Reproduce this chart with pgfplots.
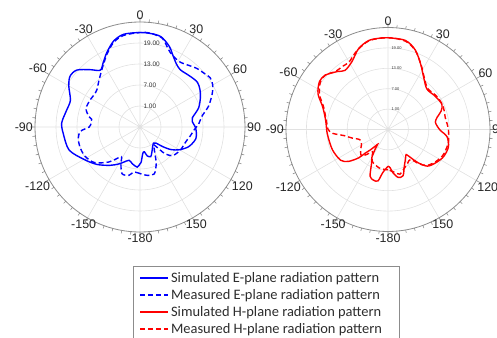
\documentclass[border=0pt]{standalone}
\usepackage{pgfplots}
\pgfplotsset{compat=1.18}
\usepgfplotslibrary{polar}
\usepackage{fontspec}
\setmainfont{Liberation Sans}
\newfontfamily\carlito{Carlito}
\definecolor{gridc}{RGB}{225,225,225}
\definecolor{axc}{RGB}{140,140,140}
\definecolor{legtext}{RGB}{45,45,45}
\pgfplotsset{
  mypolar/.style={
    scale only axis,
    anchor=center,
    rotate=-90, x dir=reverse,
    xmin=0, xmax=360, ymin=0, ymax=30,
    xtick={0,30,...,330},
    xticklabels={0,30,60,90,120,150,-180,-150,-120,-90,-60,-30},
    ytick={6,12,18,24},
    yticklabels={1.00,7.00,13.00,19.00},
    minor x tick num=5,
    grid=major,
    major grid style={draw=gridc, line width=0.6bp},
    x axis line style={draw=axc, line width=0.8bp},
    y axis line style={draw=none},
    x tick style={draw=axc, line width=0.6bp},
    xtick align=inside,
    major tick length=5bp, minor tick length=3bp,
    ytick style={draw=none},
    /pgf/number format/assume math mode=true,
    xticklabel style={font=\fontsize{12.5}{13}\selectfont, text=black!85,
      inner sep=2bp, anchor=-\tick-90},
  },
  sh/.style={y filter/.expression={y+5}},
  legrow/.style={hide axis, scale only axis, width=1bp, height=1bp,
    anchor=center, xmin=0, xmax=1, ymin=0, ymax=1,
    legend image code/.code={\draw[##1] (0bp,0bp) -- (28bp,0bp);},
    legend style={at={(0,0.5)}, anchor=west, draw=none, fill=none,
      font=\carlito\fontsize{14.5}{15}\selectfont, text=legtext,
      inner xsep=7bp, inner ysep=0bp}},
}
\begin{document}
\begin{tikzpicture}
\useasboundingbox (0,0) rectangle (497bp,338bp);
\begin{polaraxis}[mypolar, width=210bp, height=210bp, at={(140bp,211bp)},
  yticklabel style={font=\fontsize{6.5}{7}\selectfont, text=black!80, anchor=west}]
\addplot[sh, blue, line width=1.4bp, smooth] coordinates {
(-180,5.5) (-176,6.5) (-168,5.7) (-162,5.0) (-155,6.1) (-150,7.2) (-142,8.9) (-131,11.3)
(-120,13.5) (-108,16.3) (-95,17.0) (-87,17.4) (-77,16.5) (-69,16.3) (-60,18.5) (-54,19.7)
(-48,19.3) (-41,16.7) (-35,14.8) (-30,16.1) (-24,18.3) (-17,20.7) (-10,21.9) (0,22.0)
(6,21.9) (13,21.5) (20,19.5) (25,17.4) (30,15.8) (35,15.0) (40,15.1) (45,15.4) (52,15.8)
(58,15.2) (64,14.2) (72,12.6) (80,10.2) (84,10.0) (90,10.8) (96,11.2) (102,11.3) (108,10.6)
(113,9.8) (120,8.0) (126,6.0) (131,3.5) (135,1.5) (140,1.0) (148,1.8) (155,3.0) (160,4.0)
(166,3.5) (170,2.2) (174,2.6) (178,5.0) (180,5.5)
};
\addplot[sh, blue, line width=1.4bp, dash pattern=on 5bp off 3bp, smooth] coordinates {
(-180,8.3) (-172,8.0) (-167,9.2) (-159,9.3) (-153,7.0) (-148,5.0) (-143,6.5) (-138,8.5)
(-128,11.5) (-118,12.8) (-108,13.1) (-100,12.9) (-94,12.0) (-90,9.5) (-85,9.0) (-81,9.0)
(-78,10.0) (-71,11.3) (-61,11.2) (-55,11.0) (-49,11.3) (-42,12.6) (-35,14.3) (-30,15.8)
(-24,18.0) (-17,20.4) (-10,21.6) (0,22.0) (6,22.0) (14,21.2) (18,19.5) (22,18.0) (28,17.0)
(32,16.8) (38,17.4) (44,18.3) (50,18.9) (55,19.5) (60,19.0) (65,17.8) (73,15.5) (80,13.0)
(87,11.8) (93,10.5) (100,9.6) (106,8.9) (113,8.5) (120,8.3) (127,7.8) (131,7.5) (137,5.5)
(142,1.5) (147,2.5) (151,3.8) (156,6.4) (163,9.0) (171,9.0) (180,8.3)
};
\end{polaraxis}
\begin{polaraxis}[mypolar, width=204bp, height=204bp, at={(388bp,208.5bp)},
  yticklabel style={font=\fontsize{4}{5}\selectfont, text=black!80, anchor=west}]
\addplot[sh, red, line width=1.4bp, smooth] coordinates {
(-180,5.8) (-173,7.8) (-169,10.4) (-164,10.5) (-159,9.7) (-154,6.0) (-150,4.5) (-147,2.0)
(-145,0.3) (-143,1.0) (-139,3.0) (-136,4.7) (-134,7.0) (-129,9.9) (-123,11.6) (-110,12.4)
(-94,12.9) (-82,13.5) (-71,15.3) (-63,18.1) (-55,19.6) (-49,19.4) (-41,17.6) (-36,16.5)
(-28,17.6) (-20,20.3) (-12,21.8) (-4,22.0) (0,22.0) (11,21.7) (19,19.7) (27,16.3) (35,13.4)
(44,11.5) (55,12.0) (65,12.5) (71,11.5) (76,9.9) (81,9.1) (86,9.5) (91,10.4) (97,12.5)
(106,13.5) (116,13.2) (125,12.1) (133,10.8) (138,8.1) (141,5.7) (144,4.1) (148,4.8)
(156,6.8) (162,9.3) (168,9.4) (173.5,7.8) (177,6.2) (180,5.8)
};
\addplot[sh, red, line width=1.4bp, dash pattern=on 5bp off 3bp, smooth] coordinates {
(-180,6.8) (-175,6.8) (-167,6.6) (-160,6.0) (-154,5.5) (-149,4.0) (-145,3.0) (-140,4.5)
(-135,6.0) (-130,5.5) (-126,5.0) (-120,4.0) (-110,3.8) (-103,6.0) (-98,8.0) (-94,11.3)
(-90,12.6) (-82,13.3) (-71,15.0) (-63,17.6) (-55,19.3) (-49,19.4) (-42,18.0) (-36,17.9)
(-30,17.9) (-22,19.8) (-12,21.7) (0,22.0) (11,21.5) (19,19.6) (27,16.4) (35,13.6) (44,11.8)
(55,12.3) (65,12.6) (72,12.4) (78,12.2) (85,12.5) (91,12.8) (98,13.0) (103,13.2) (110,13.0)
(116,12.8) (125,11.8) (133,10.5) (138,8.5) (143,6.0) (150,6.5) (158,7.5) (165,8.6) (171,7.8)
(180,6.8)
};
\end{polaraxis}
% legend frame
\begin{axis}[hide axis, scale only axis, width=1bp, height=1bp,
  at={(133bp,72bp)}, anchor=north west, xmin=0, xmax=1, ymin=0, ymax=1,
  legend style={at={(0,1)}, anchor=north west, draw=axc,
    minimum width=260bp, minimum height=80bp}]
\addlegendimage{empty legend}
\addlegendentry{}
\end{axis}
% legend rows
\begin{axis}[legrow, at={(133bp,60bp)}]
\addlegendimage{draw=blue, line width=1.4bp, solid}
\addlegendentry{Simulated E-plane radiation pattern}
\end{axis}
\begin{axis}[legrow, at={(133bp,43bp)}]
\addlegendimage{draw=blue, line width=1.4bp, dash pattern=on 5bp off 3bp}
\addlegendentry{Measured E-plane radiation pattern}
\end{axis}
\begin{axis}[legrow, at={(133bp,26bp)}]
\addlegendimage{draw=red, line width=1.4bp, solid}
\addlegendentry{Simulated H-plane radiation pattern}
\end{axis}
\begin{axis}[legrow, at={(133bp,9bp)}]
\addlegendimage{draw=red, line width=1.4bp, dash pattern=on 5bp off 3bp}
\addlegendentry{Measured H-plane radiation pattern}
\end{axis}
\end{tikzpicture}
\end{document}
